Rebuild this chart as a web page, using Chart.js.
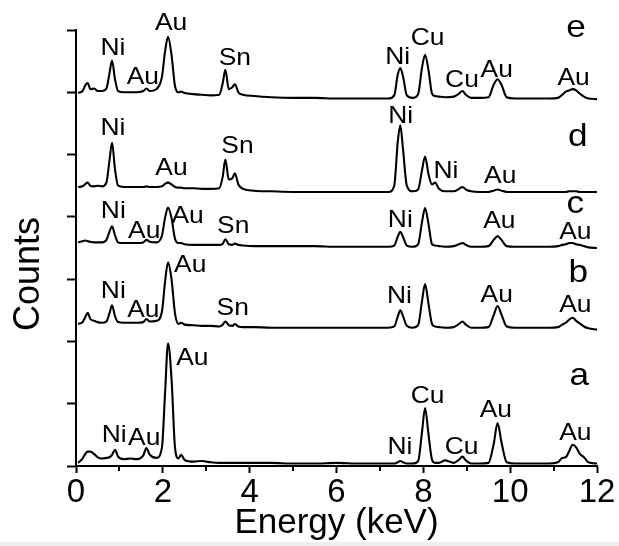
<!DOCTYPE html>
<html>
<head>
<meta charset="utf-8">
<script src="https://cdn.jsdelivr.net/npm/chart.js@4.4.0/dist/chart.umd.min.js"></script>
<style>
  html, body { margin: 0; padding: 0; background: #fff; overflow: hidden; }
  #wrap { width: 619px; height: 546px; position: relative; }
</style>
</head>
<body>
<div id="wrap"><canvas id="edsChart" width="619" height="546"></canvas></div>
<script>
// energy grid (keV), shared by the five spectra
const energy = [0.05,0.15,0.22,0.27,0.33,0.42,0.5,0.6,0.7,0.77,
  0.83,0.9,0.97,1.1,1.25,1.4,1.55,1.62,1.7,1.85,
  1.98,2.05,2.12,2.2,2.28,2.36,2.42,2.5,2.7,2.9,
  3.1,3.3,3.38,3.44,3.52,3.6,3.66,3.74,3.85,4.1,
  4.5,5.0,5.5,6.0,6.5,7.0,7.2,7.33,7.41,7.47,
  7.53,7.62,7.75,7.88,7.97,8.04,8.12,8.2,8.27,8.36,
  8.5,8.7,8.82,8.9,8.98,9.1,9.3,9.5,9.62,9.71,
  9.8,9.92,10.1,10.5,10.9,11.1,11.2,11.28,11.36,11.44,
  11.52,11.6,11.7,11.8,12.0];

// counts (offset, arbitrary units)
const specA = [0.05,0.12,0.20,0.23,0.23,0.19,0.14,0.12,0.13,0.14,
  0.18,0.26,0.15,0.11,0.12,0.11,0.17,0.29,0.18,0.13,
  0.30,1.15,1.97,1.40,0.30,0.12,0.18,0.10,0.07,0.08,
  0.06,0.05,0.05,0.05,0.05,0.05,0.05,0.05,0.05,0.05,
  0.05,0.04,0.04,0.05,0.04,0.04,0.04,0.04,0.06,0.08,
  0.06,0.04,0.04,0.08,0.55,0.93,0.50,0.10,0.05,0.05,
  0.09,0.05,0.10,0.15,0.09,0.04,0.04,0.05,0.35,0.69,
  0.38,0.06,0.04,0.04,0.04,0.06,0.13,0.14,0.24,0.34,
  0.30,0.20,0.14,0.06,0.04];
const specB = [2.28,2.31,2.40,2.46,2.36,2.33,2.31,2.30,2.32,2.45,
  2.58,2.40,2.31,2.30,2.30,2.30,2.31,2.36,2.32,2.33,
  2.48,2.95,3.27,3.00,2.45,2.28,2.30,2.27,2.26,2.25,
  2.25,2.24,2.27,2.32,2.26,2.25,2.28,2.24,2.23,2.23,
  2.22,2.22,2.22,2.22,2.22,2.22,2.22,2.24,2.40,2.50,
  2.41,2.25,2.22,2.26,2.65,2.92,2.60,2.28,2.24,2.23,
  2.22,2.23,2.28,2.32,2.27,2.22,2.22,2.23,2.42,2.57,
  2.43,2.24,2.22,2.22,2.22,2.23,2.27,2.30,2.35,2.38,
  2.33,2.29,2.24,2.21,2.19];
const specC = [3.59,3.61,3.62,3.61,3.60,3.59,3.59,3.59,3.63,3.76,
  3.85,3.70,3.59,3.58,3.58,3.58,3.59,3.63,3.60,3.59,
  3.70,3.98,4.15,3.98,3.65,3.58,3.58,3.56,3.55,3.55,
  3.55,3.55,3.57,3.64,3.56,3.55,3.57,3.55,3.54,3.53,
  3.53,3.53,3.53,3.52,3.52,3.52,3.52,3.54,3.68,3.76,
  3.68,3.54,3.52,3.56,3.92,4.14,3.88,3.56,3.54,3.53,
  3.52,3.53,3.56,3.58,3.55,3.52,3.52,3.53,3.63,3.69,
  3.63,3.53,3.52,3.52,3.52,3.53,3.55,3.56,3.58,3.58,
  3.56,3.55,3.53,3.51,3.50];
const specD = [4.48,4.49,4.53,4.55,4.50,4.49,4.50,4.49,4.55,4.90,
  5.19,4.75,4.50,4.48,4.48,4.48,4.48,4.49,4.48,4.48,
  4.49,4.53,4.55,4.52,4.48,4.47,4.47,4.46,4.46,4.45,
  4.45,4.46,4.65,4.92,4.60,4.62,4.70,4.52,4.45,4.42,
  4.41,4.40,4.40,4.40,4.40,4.40,4.40,4.50,5.20,5.47,
  5.10,4.50,4.41,4.44,4.75,4.97,4.68,4.52,4.55,4.45,
  4.41,4.41,4.45,4.48,4.44,4.41,4.40,4.40,4.42,4.44,
  4.42,4.40,4.40,4.40,4.40,4.40,4.40,4.40,4.41,4.41,
  4.41,4.40,4.40,4.40,4.40];
const specE = [5.99,6.02,6.12,6.15,6.05,6.06,6.02,6.02,6.06,6.30,
  6.51,6.20,6.02,6.00,6.00,6.00,6.02,6.06,6.02,6.05,
  6.25,6.65,6.89,6.60,6.10,6.00,6.01,5.99,5.97,5.96,
  5.95,5.96,6.15,6.36,6.05,6.08,6.13,6.00,5.96,5.94,
  5.92,5.91,5.91,5.90,5.90,5.90,5.90,5.95,6.28,6.39,
  6.26,5.95,5.91,5.97,6.40,6.60,6.35,5.98,5.94,5.93,
  5.92,5.93,5.98,6.02,5.96,5.91,5.91,5.92,6.12,6.21,
  6.12,5.92,5.90,5.90,5.90,5.91,5.96,6.01,6.03,6.05,
  6.03,5.98,5.93,5.90,5.89];

const xTicks = [0, 2, 4, 6, 8, 10, 12];
const xMinorTicks = [1, 3, 5, 7, 9, 11];

// peak labels: [text, energy, counts at text baseline]
const peakLabels = [
  ['Ni',0.85,6.60],['Au',1.54,6.14],['Au',2.19,7.00],['Sn',3.66,6.44],['Ni',7.41,6.46],
  ['Cu',8.10,6.76],['Cu',8.89,6.08],['Au',9.69,6.25],['Au',11.46,6.12],
  ['Ni',0.85,5.31],['Au',2.20,4.67],['Sn',3.72,5.02],['Ni',7.48,5.50],['Ni',8.52,4.62],['Au',9.77,4.54],
  ['Ni',0.86,3.98],['Au',1.57,3.66],['Au',2.57,3.90],['Sn',3.62,3.74],['Ni',7.47,3.84],['Au',9.75,3.82],['Au',11.5,3.64],
  ['Ni',0.86,2.69],['Au',1.55,2.40],['Au',2.63,3.12],['Sn',3.61,2.42],['Ni',7.45,2.61],['Au',9.69,2.64],['Au',11.5,2.48],
  ['Ni',0.88,0.39],['Au',1.57,0.34],['Au',2.68,1.62],['Ni',7.46,0.20],['Cu',8.10,1.01],['Cu',8.88,0.20],['Au',9.67,0.79],['Au',11.5,0.42]
];
// sample letters: [text, energy, counts at baseline]
const sampleTags = [['e',11.52,6.89],['d',11.56,5.13],['c',11.5,4.06],['b',11.57,2.96],['a',11.59,1.30]];

const FONT = '"Liberation Sans", Arial, Helvetica, sans-serif';

function toPoints(vals) {
  return energy.map((e, i) => ({ x: e, y: vals[i] }));
}

const annotate = {
  id: 'annotate',
  beforeDraw(chart) {
    const ctx = chart.ctx;
    ctx.save();
    ctx.fillStyle = '#fff';
    ctx.fillRect(0, 0, chart.width, chart.height);
    ctx.fillStyle = '#eeeeee';
    ctx.fillRect(0, chart.height - 4, chart.width, 4);
    ctx.restore();
  },
  afterDraw(chart) {
    const ctx = chart.ctx;
    const xs = chart.scales.x, ys = chart.scales.y;
    const area = chart.chartArea;
    ctx.save();
    // minor x ticks
    ctx.strokeStyle = '#000';
    ctx.lineWidth = 2;
    xMinorTicks.forEach(v => {
      const px = Math.round(xs.getPixelForValue(v));
      ctx.beginPath();
      ctx.moveTo(px, area.bottom);
      ctx.lineTo(px, area.bottom + 5);
      ctx.stroke();
    });
    ctx.fillStyle = '#000';
    ctx.textAlign = 'center';
    ctx.textBaseline = 'alphabetic';
    const put = (t, e, c, size) => {
      ctx.save();
      ctx.font = size + 'px ' + FONT;
      ctx.translate(xs.getPixelForValue(e), ys.getPixelForValue(c));
      ctx.scale(1.1, 1);
      ctx.fillText(t, 0, 0);
      ctx.restore();
    };
    peakLabels.forEach(([t, e, c]) => put(t, e, c, 24));
    sampleTags.forEach(([t, e, c]) => put(t, e, c, 32));
    // y axis title
    ctx.save();
    ctx.font = '36px ' + FONT;
    ctx.textBaseline = 'middle';
    ctx.translate(29, 274);
    ctx.rotate(-Math.PI / 2);
    ctx.fillText('Counts', 0, 0);
    ctx.restore();
    ctx.restore();
  }
};

const spectra = [specA, specB, specC, specD, specE];

new Chart(document.getElementById('edsChart'), {
  type: 'line',
  data: {
    datasets: spectra.map((s, i) => ({
      label: 'abcde'[i],
      data: toPoints(s),
      borderColor: '#000',
      borderWidth: 2.1,
      pointRadius: 0,
      cubicInterpolationMode: 'monotone',
      fill: false
    }))
  },
  options: {
    responsive: false,
    animation: false,
    events: [],
    layout: { padding: { left: 0, right: 22, top: 30, bottom: 0 } },
    plugins: { legend: { display: false }, tooltip: { enabled: false } },
    scales: {
      x: {
        type: 'linear',
        min: 0,
        max: 12,
        afterBuildTicks: s => { s.ticks = xTicks.map(v => ({ value: v })); },
        ticks: { color: '#000', font: { family: FONT, size: 33 }, padding: 0, maxRotation: 0 },
        grid: { display: true, drawOnChartArea: false, drawTicks: true, tickLength: 7, tickWidth: 2, tickColor: '#000' },
        border: { display: true, color: '#000', width: 2 },
        title: { display: true, text: 'Energy (keV)', color: '#000', font: { family: FONT, size: 35 }, padding: { top: 0, bottom: 2 } },
        afterFit: s => { s.height = 80; }
      },
      y: {
        min: 0,
        max: 7,
        ticks: { stepSize: 1, display: false },
        grid: { display: true, drawOnChartArea: false, drawTicks: true, tickLength: 9, tickWidth: 2, tickColor: '#000' },
        border: { display: true, color: '#000', width: 2 },
        afterFit: s => { s.width = 76; }
      }
    }
  },
  plugins: [annotate]
});
</script>
</body>
</html>
